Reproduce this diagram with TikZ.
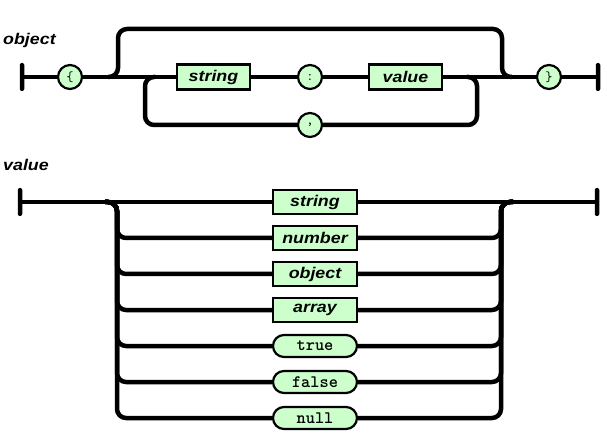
\documentclass[tikz,border=0pt]{standalone}
\usepackage{fontspec}
\usetikzlibrary{positioning, calc}
\newfontfamily\railsans[FakeStretch=1.15]{Liberation Sans}
\definecolor{railGreen}{RGB}{204, 255, 204}

\begin{document}
\begin{tikzpicture}[x=1pt, y=-1pt,
            rail/.style={line width=4.5pt, rounded corners=9pt},
            nonterm/.style={rectangle, draw, fill=railGreen, line width=2.2pt, minimum width=84pt,
                        minimum height=24pt, inner sep=0pt, font=\railsans\bfseries\itshape\fontsize{15.5}{16}\selectfont},
            literal/.style={rectangle, rounded corners=11pt, draw, fill=railGreen, line width=2.2pt,
                        minimum width=84pt, minimum height=22pt, inner sep=0pt, font=\ttfamily\bfseries\fontsize{17.5}{18}\selectfont},
            term/.style={circle, draw, fill=railGreen, line width=2.2pt, minimum size=24pt, inner sep=0pt,
                        font=\ttfamily\fontsize{14}{15}\selectfont},
            endbar/.style={rectangle, fill=black, minimum width=4.5pt, minimum height=28pt, inner sep=0pt, rounded corners=2pt},
            title/.style={anchor=base west, inner sep=0pt, font=\railsans\bfseries\itshape\fontsize{15.5}{16}\selectfont}
        ]
            \useasboundingbox (0,0) rectangle (607,443);

            % object
            \node[title] (objlabel) at (3,45) {object};
            \node[endbar] (ostart) at (22,77) {};
            \node[term] (lbrace) at (70,77) {\{};
            \node[nonterm, minimum width=73pt, minimum height=25pt] (ostring) at (213.5,77) {string};
            \node[term] (colon) at (310,77) {:};
            \node[nonterm, minimum width=73pt, minimum height=25pt] (ovalue) at (405.5,77) {value};
            \node[term] (comma) at (310,125) {,};
            \node[term] (rbrace) at (549,77) {\}};
            \node[endbar] (oend) at (598,77) {};

            \coordinate (skipl) at (118,77);
            \coordinate (skipr) at (502,77);
            \coordinate (loopl) at (145,77);
            \coordinate (loopr) at (477,77);

            \draw[rail] (ostart) -- (lbrace);
            \draw[rail] (lbrace) -- (ostring);
            \draw[rail] (ostring) -- (colon);
            \draw[rail] (colon) -- (ovalue);
            \draw[rail] (ovalue) -- (rbrace);
            \draw[rail] (rbrace) -- (oend);
            % empty object
            \draw[rail] ([xshift=-10pt]skipl) -- (skipl) -- (118,29) -- (502,29) -- (skipr) -- ++(10,0);
            % more members
            \draw[rail] ([xshift=-10pt]loopr) -- (loopr) |- (comma);
            \draw[rail] (comma) -| (loopl) -- ++(10,0);

            % value
            \node[title] (vallabel) at (3,171) {value};
            \node[endbar] (vstart) at (20,202) {};
            \node[endbar] (vend) at (597,202) {};
            \node[nonterm] (vstring) at (315,202) {string};
            \foreach \name/\txt/\row in {vnumber/number/1, vobject/object/2, varray/array/3}
                \node[nonterm] (\name) at (315,202+36*\row) {\txt};
            \foreach \name/\txt/\row in {vtrue/true/4, vfalse/false/5, vnull/null/6}
                \node[literal] (\name) at (315,202+36*\row) {\txt};

            \coordinate (vsplit) at (117,202);
            \coordinate (vjoin) at (501,202);

            \draw[rail] (vstart) -- (vstring);
            \draw[rail] (vstring) -- (vend);
            \foreach \name in {vnumber, vobject, varray, vtrue, vfalse, vnull} {
                \draw[rail] ([xshift=-12pt]vsplit) -- (vsplit) |- (\name);
                \draw[rail] (\name) -| (vjoin) -- ++(12,0);
            }
        \end{tikzpicture}
\end{document}
